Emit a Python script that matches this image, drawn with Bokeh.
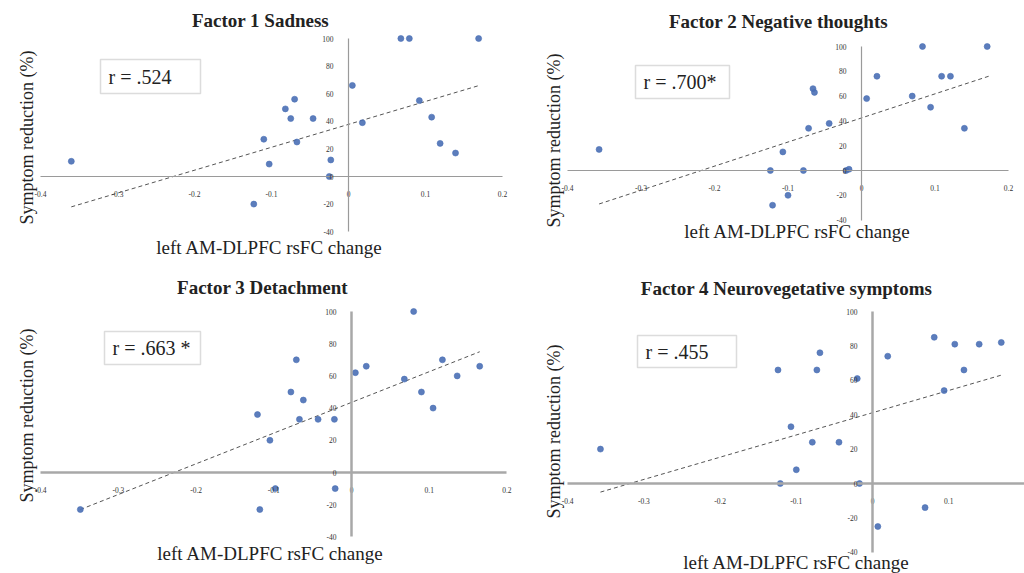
import numpy as np
from bokeh.plotting import figure
from bokeh.models import Label, BoxAnnotation, FixedTicker, NumeralTickFormatter, LinearAxis, Range1d
from bokeh.layouts import column, row
from bokeh.embed import file_html
from bokeh.resources import INLINE

# ---------------- data ----------------
x_ticks = [-0.4, -0.3, -0.2, -0.1, 0, 0.1, 0.2]
y_ticks = [-40, -20, 0, 20, 40, 60, 80, 100]

titles = ["Factor 1 Sadness", "Factor 2 Negative thoughts",
          "Factor 3 Detachment", "Factor 4 Neurovegetative symptoms"]
r_texts = ["r = .524", "r = .700*", "r = .663 *", "r = .455"]
x_label = "left AM-DLPFC rsFC change"
y_label = "Symptom reduction (%)"

f1_x = [-0.360, -0.123, -0.110, -0.103, -0.082, -0.075, -0.070, -0.067, -0.046, -0.023,
        -0.025, 0.005, 0.018, 0.068, 0.079, 0.092, 0.108, 0.119, 0.139, 0.169]
f1_y = [11, -20, 27, 9, 49, 42, 56, 25, 42, 12,
        0, 66, 39, 100, 100, 55, 43, 24, 17, 100]
f1_trend_x = [-0.360, 0.170]
f1_trend_y = [-22, 66]

f2_x = [-0.357, -0.124, -0.107, -0.121, -0.100, -0.079, -0.072, -0.066, -0.064, -0.044,
        -0.021, -0.017, 0.007, 0.021, 0.069, 0.083, 0.094, 0.109, 0.121, 0.140, 0.171]
f2_y = [17, 0, 15, -28, -20, 0, 34, 66, 63, 38,
        0, 1, 58, 76, 60, 100, 51, 76, 76, 34, 100]
f2_trend_x = [-0.357, 0.173]
f2_trend_y = [-27, 76]

f3_x = [-0.349, -0.121, -0.118, -0.105, -0.098, -0.078, -0.071, -0.067, -0.062, -0.043,
        -0.022, -0.021, 0.005, 0.019, 0.068, 0.080, 0.090, 0.105, 0.117, 0.136, 0.165]
f3_y = [-23, 36, -23, 20, -10, 50, 70, 33, 45, 33,
        33, -10, 62, 66, 58, 100, 50, 40, 70, 60, 66]
f3_trend_x = [-0.349, 0.165]
f3_trend_y = [-23, 75]

f4_x = [-0.357, -0.124, -0.121, -0.107, -0.100, -0.079, -0.073, -0.069, -0.044, -0.020,
        -0.017, 0.007, 0.020, 0.069, 0.081, 0.094, 0.108, 0.120, 0.140, 0.169]
f4_y = [20, 66, 0, 33, 8, 24, 66, 76, 24, 61,
        0, -25, 74, -14, 85, 54, 81, 66, 81, 82]
f4_trend_x = [-0.357, 0.169]
f4_trend_y = [-5, 63]

series_x = [f1_x, f2_x, f3_x, f4_x]
series_y = [f1_y, f2_y, f3_y, f4_y]
trend_x = [f1_trend_x, f2_trend_x, f3_trend_x, f4_trend_x]
trend_y = [f1_trend_y, f2_trend_y, f3_trend_y, f4_trend_y]

# ---------------- layout (pixels inside each panel) ----------------
panels = [
    dict(W=520, H=270, x0=348, sx=770, y0=176, sy=1.38, title=(260, 20), xl=(269, 247), yl=(26, 137),
         box=(100, 59, 200, 93), aw=1.2, ac="#9a9a9a"),
    dict(W=504, H=270, x0=341, sx=735, y0=170, sy=1.24, title=(258, 21), xl=(277, 231), yl=(33, 140),
         box=(115, 65, 209, 98), aw=1.2, ac="#9a9a9a"),
    dict(W=520, H=303, x0=351, sx=777, y0=202, sy=1.61, title=(262, 17), xl=(270, 283), yl=(26, 145),
         box=(104, 61, 200, 94), aw=2.5, ac="#a8a8a8"),
    dict(W=504, H=303, x0=352, sx=762, y0=213, sy=1.72, title=(266, 18), xl=(276, 292), yl=(33, 161),
         box=(117, 65, 216, 97), aw=2.5, ac="#a8a8a8"),
]

SERIF = "Liberation Serif"
TXT = "#222222"


def make_panel(i):
    c = panels[i]
    W, H, x0, sx, y0, sy = c["W"], c["H"], c["x0"], c["sx"], c["y0"], c["sy"]

    def d(px, py):
        return (px - x0) / sx, (y0 - py) / sy

    p = figure(width=W, height=H, x_range=Range1d(-x0 / sx, (W - x0) / sx),
               y_range=Range1d((y0 - H) / sy, y0 / sy), output_backend="svg",
               toolbar_location=None, min_border=0, x_axis_location=None, y_axis_location=None)
    p.outline_line_color = None
    p.grid.grid_line_color = None
    p.background_fill_color = "white"
    p.border_fill_color = "white"

    xa = LinearAxis(fixed_location=0, ticker=FixedTicker(ticks=x_ticks),
                    formatter=NumeralTickFormatter(format="0.[0]"), bounds=(-0.4, 0.2))
    ya = LinearAxis(fixed_location=0, ticker=FixedTicker(ticks=y_ticks),
                    formatter=NumeralTickFormatter(format="0"), bounds=(-40, 100))
    for a in (xa, ya):
        a.axis_line_color = c["ac"]
        a.axis_line_width = c["aw"]
        a.major_tick_line_color = None
        a.minor_tick_line_color = None
        a.major_label_text_font = SERIF
        a.major_label_text_font_size = "7.5px"
        a.major_label_text_color = "#333333"
    xa.major_label_standoff = 8
    ya.major_label_standoff = 9
    p.add_layout(xa, "below")
    p.add_layout(ya, "left")

    p.line(trend_x[i], trend_y[i], line_color="#555555", line_width=1, line_dash="4 3")
    p.scatter(series_x[i], series_y[i], size=6, marker="circle", fill_color="#4a6fb5",
              line_color="#4a6fb5", fill_alpha=0.9, line_alpha=0.6)

    tx, ty = d(*c["title"])
    p.add_layout(Label(x=tx, y=ty, text=titles[i], text_font=SERIF, text_font_style="bold",
                       text_font_size="19px", text_align="center", text_baseline="middle",
                       text_color=TXT))
    lx_, ly_ = d(*c["xl"])
    p.add_layout(Label(x=lx_, y=ly_, text=x_label, text_font=SERIF, text_font_size="19px",
                       text_align="center", text_baseline="middle", text_color=TXT))
    yx, yy = d(*c["yl"])
    p.add_layout(Label(x=yx, y=yy, text=y_label, text_font=SERIF, text_font_size="18px",
                       text_align="center", text_baseline="middle", text_color=TXT,
                       angle=np.pi / 2))

    bl, bt, br, bb = c["box"]
    l_, t_ = d(bl, bt)
    r_, b_ = d(br, bb)
    p.add_layout(BoxAnnotation(left=l_, right=r_, top=t_, bottom=b_, fill_color="white",
                               fill_alpha=1, line_color="#8a8a8a", line_width=1.5, level="overlay"))
    rx, ry = d(bl + 8, (bt + bb) / 2)
    p.add_layout(Label(x=rx, y=ry, text=r_texts[i], text_font=SERIF, text_font_size="20px",
                       text_align="left", text_baseline="middle", text_color=TXT, level="overlay"))
    return p


plots = [make_panel(i) for i in range(4)]
layout = column(row(plots[0], plots[1]), row(plots[2], plots[3]))

open("out.html", "w").write(file_html(layout, INLINE))
